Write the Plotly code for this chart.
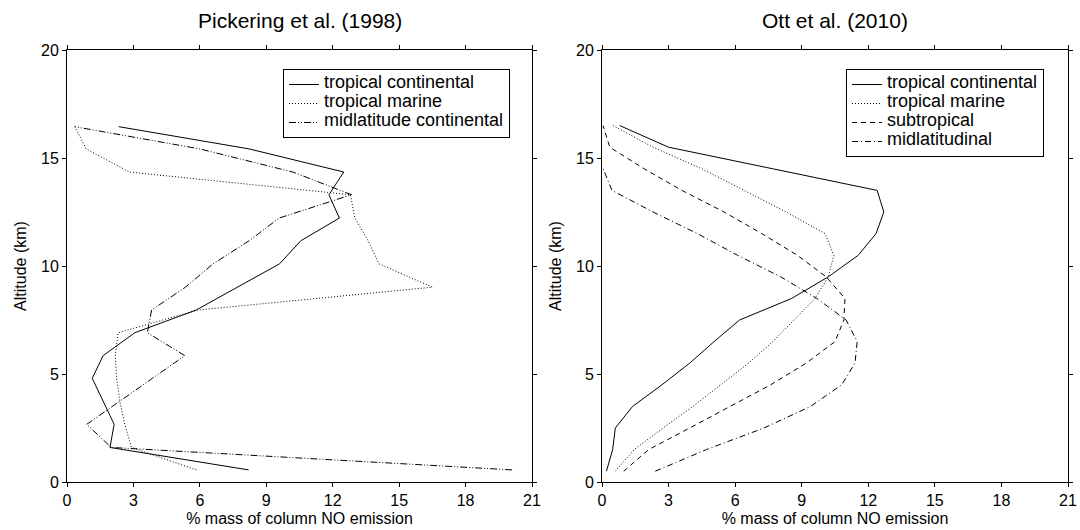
import plotly.graph_objects as go

# ---------------- data ----------------
# Pickering et al. (1998)
pick_alt = [0.56, 1.6, 2.67, 3.72, 4.8, 5.85, 6.91, 7.96, 9.02, 10.1, 11.17, 12.22, 13.3, 14.35, 15.42, 16.45]
pick_trop_cont = [8.2, 1.94, 2.13, 1.64, 1.14, 1.63, 3.06, 5.83, 7.7, 9.6, 10.56, 12.3, 11.83, 12.5, 8.23, 2.34]
pick_trop_mar = [5.84, 2.91, 2.61, 2.39, 2.24, 2.18, 2.31, 5.9, 16.5, 14.09, 13.6, 13.0, 12.8, 2.82, 0.87, 0.35]
pick_midlat = [20.1, 2.0, 0.89, 2.38, 3.86, 5.32, 3.63, 3.82, 5.35, 6.6, 8.23, 9.58, 12.85, 10.2, 6.0, 0.35]

# Ott et al. (2010)
ott_alt = [0.5, 1.5, 2.5, 3.5, 4.5, 5.5, 6.5, 7.5, 8.5, 9.5, 10.5, 11.5, 12.5, 13.5, 14.5, 15.5, 16.5]
ott_trop_cont = [0.2, 0.48, 0.6, 1.38, 2.7, 3.95, 5.05, 6.2, 8.55, 10.2, 11.55, 12.35, 12.7, 12.4, 7.7, 3.0, 0.8]
ott_trop_mar = [0.6, 1.45, 2.75, 4.1, 5.35, 6.6, 7.7, 8.65, 9.6, 10.2, 10.45, 10.05, 8.3, 6.4, 4.5, 2.3, 0.5]
ott_subtrop = [0.98, 2.1, 3.95, 5.8, 7.6, 9.2, 10.5, 10.9, 10.95, 10.1, 8.8, 7.2, 5.5, 3.6, 1.9, 0.35, 0.05]
ott_midlat_alt = [0.5, 1.5, 2.5, 3.5, 4.5, 5.5, 6.5, 7.5, 8.5, 9.5, 10.5, 11.5, 12.5, 13.5, 14.5]
ott_midlat = [2.4, 4.7, 7.3, 9.4, 10.8, 11.4, 11.5, 11.0, 9.68, 8.05, 6.1, 4.3, 2.3, 0.45, 0.05]

x_ticks = [0, 3, 6, 9, 12, 15, 18, 21]
y_ticks = [0, 5, 10, 15, 20]

FONT = "Liberation Sans, Arial, Helvetica, sans-serif"
LEG_TXT = '<span style="font-size:18px">{}</span>'

fig = go.Figure()

def add(x, y, name, dash, xa, ya, legend):
    fig.add_trace(go.Scatter(
        x=x, y=y, name=LEG_TXT.format(name), mode="lines",
        line=dict(color="black", width=1, dash=dash),
        xaxis=xa, yaxis=ya, legend=legend,
    ))

DOT = "1px,2px"
DASHDOTDOT = "7px,2px,1px,2px,1px,2px"
DASH = "5px,4px"
DASHDOT = "6px,3px,1px,3px"

add(pick_trop_cont, pick_alt, "tropical continental", "solid", "x", "y", "legend")
add(pick_trop_mar, pick_alt, "tropical marine", DOT, "x", "y", "legend")
add(pick_midlat, pick_alt, "midlatitude continental", DASHDOTDOT, "x", "y", "legend")

add(ott_trop_cont, ott_alt, "tropical continental", "solid", "x2", "y2", "legend2")
add(ott_trop_mar, ott_alt, "tropical marine", DOT, "x2", "y2", "legend2")
add(ott_subtrop, ott_alt, "subtropical", DASH, "x2", "y2", "legend2")
add(ott_midlat, ott_midlat_alt, "midlatitudinal", DASHDOT, "x2", "y2", "legend2")

W, H = 1080, 530
ML, MR, MT, MB = 67, 12, 50, 48
PW, PH = W - ML - MR, H - MT - MB

def px_x(p):
    return (p - ML) / PW

def px_y(p):
    return (H - MB - p) / PH

axis_common = dict(
    showline=True, linecolor="black", linewidth=1, mirror="ticks",
    ticks="outside", ticklen=4, tickcolor="black", tickwidth=1,
    showgrid=False, zeroline=False, automargin=False,
    tickfont=dict(family=FONT, size=16, color="black"),
)
xt = dict(text="% mass of column NO emission", font=dict(family=FONT, size=16, color="black"), standoff=4)
yt = dict(text="Altitude (km)", font=dict(family=FONT, size=16, color="black"), standoff=10)

leg_common = dict(xanchor="left", yanchor="top", bordercolor="black", borderwidth=1,
                  bgcolor="white", font=dict(family=FONT, size=10, color="black"),
                  tracegroupgap=0, itemwidth=30)

fig.update_layout(
    width=W, height=H,
    margin=dict(l=ML, r=MR, t=MT, b=MB, autoexpand=False),
    paper_bgcolor="white", plot_bgcolor="white",
    font=dict(family=FONT, color="black"),
    xaxis=dict(domain=[0, px_x(532)], anchor="y", range=[0, 21], tickvals=x_ticks, title=xt, **axis_common),
    yaxis=dict(domain=[0, 1], anchor="x", range=[0, 20], tickvals=y_ticks, title=yt, **axis_common),
    xaxis2=dict(domain=[px_x(602), 1], anchor="y2", range=[0, 21], tickvals=x_ticks, title=xt, **axis_common),
    yaxis2=dict(domain=[0, 1], anchor="x2", range=[0, 20], tickvals=y_ticks, title=yt, **axis_common),
    legend=dict(x=px_x(283), y=px_y(69), **leg_common),
    legend2=dict(x=px_x(846), y=px_y(69), **leg_common),
    annotations=[
        dict(text="Pickering et al. (1998)", x=px_x(299.5), y=px_y(20),
             xref="paper", yref="paper", xanchor="center", yanchor="middle", showarrow=False,
             font=dict(family=FONT, size=21, color="black")),
        dict(text="Ott et al. (2010)", x=px_x(835), y=px_y(20),
             xref="paper", yref="paper", xanchor="center", yanchor="middle", showarrow=False,
             font=dict(family=FONT, size=21, color="black")),
    ],
    showlegend=True,
)

fig.write_html("out.html")
